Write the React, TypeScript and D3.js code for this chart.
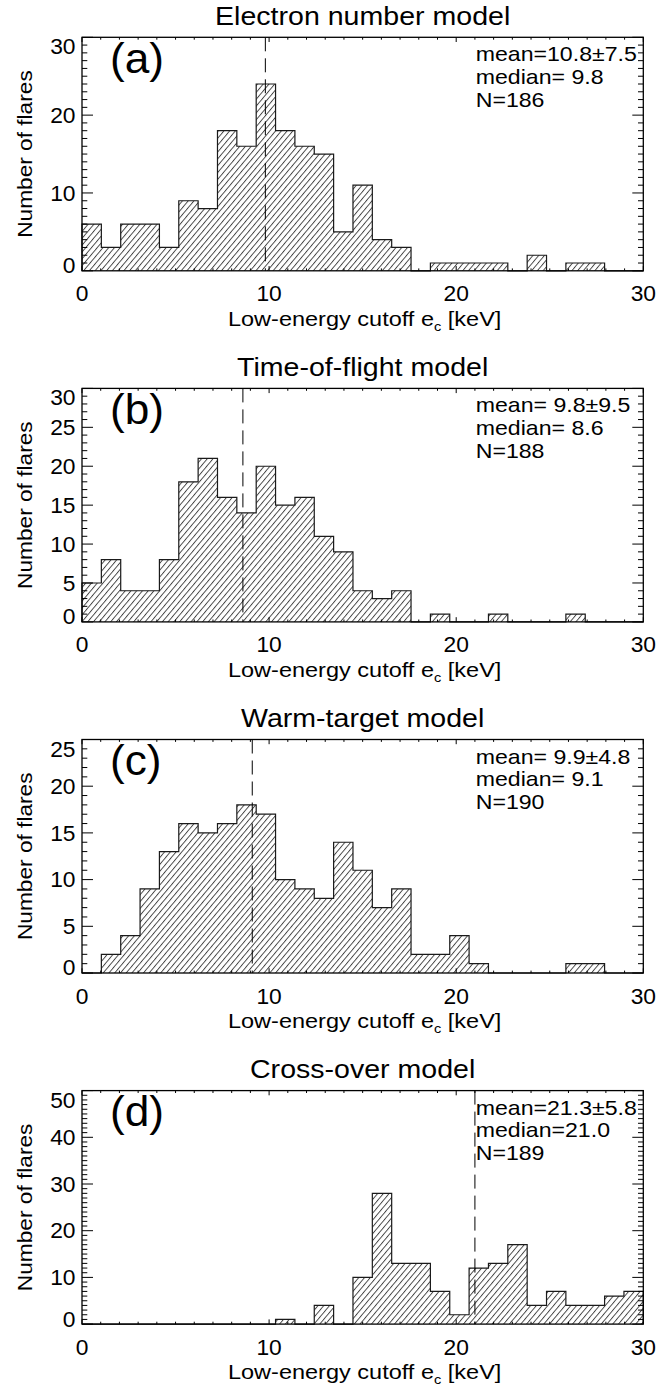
import React from 'react';
import * as d3 from 'd3';

// ---------------- data ----------------
const binCount = 29;
const xDomain: [number, number] = [0, 30];
const xMajorTicks = [0, 10, 20, 30];

const titles = ['Electron number model', 'Time-of-flight model', 'Warm-target model', 'Cross-over model'];
const panelLabels = ['(a)', '(b)', '(c)', '(d)'];

const countsA = [6, 3, 6, 6, 3, 9, 8, 18, 16, 24, 18, 16, 15, 5, 11, 4, 3, 0, 1, 1, 1, 1, 0, 2, 0, 1, 1, 0, 0];
const countsB = [5, 8, 4, 4, 8, 18, 21, 16, 14, 20, 15, 16, 11, 9, 4, 3, 4, 0, 1, 0, 0, 1, 0, 0, 0, 1, 0, 0, 0];
const countsC = [0, 2, 4, 9, 13, 16, 15, 16, 18, 17, 10, 9, 8, 14, 11, 7, 9, 2, 2, 4, 1, 0, 0, 0, 0, 1, 1, 0, 0];
const countsD = [0, 0, 0, 0, 0, 0, 0, 0, 0, 0, 1, 0, 4, 0, 10, 28, 13, 13, 7, 2, 12, 13, 17, 4, 7, 4, 4, 6, 7];

const yMaxes = [30, 30, 25, 50];
const yMajorSteps = [10, 5, 5, 10];
const medians = [9.8, 8.6, 9.1, 21.0];
const meanTexts = ['mean=10.8\u00b17.5', 'mean= 9.8\u00b19.5', 'mean= 9.9\u00b14.8', 'mean=21.3\u00b15.8'];
const medianTexts = ['median= 9.8', 'median= 8.6', 'median= 9.1', 'median=21.0'];
const nTexts = ['N=186', 'N=188', 'N=190', 'N=189'];

const countsList = [countsA, countsB, countsC, countsD];

// ---------------- layout ----------------
const W = 658;
const H = 1389;
const plotLeft = 82;
const plotRight = 643.3;
const top0 = 37.3;
const pitch = 351.1;
const plotH = 233.5;
const FONT = "'Liberation Sans', Arial, Helvetica, sans-serif";

function SText(props: any) {
  const { x, y, sx = 1, anchor = 'start', size, rotate, children, weight } = props;
  const tr = `translate(${x},${y})${rotate !== undefined ? ` rotate(${rotate})` : ''} scale(${sx},1)`;
  return (
    <text
      transform={tr}
      textAnchor={anchor}
      fontSize={size}
      fontFamily={FONT}
      fontWeight={weight}
      fill="#000"
      style={{ whiteSpace: 'pre' }}
    >
      {children}
    </text>
  );
}

function Panel({ i }: { i: number }) {
  const top = top0 + pitch * i;
  const bottom = top + plotH;
  const yMax = yMaxes[i];
  const x = d3.scaleLinear().domain(xDomain).range([plotLeft, plotRight]);
  const y = d3.scaleLinear().domain([0, yMax]).range([bottom, top]);
  const counts = countsList[i];
  const edges = d3.range(binCount + 1).map((k) => xDomain[0] + (k * (xDomain[1] - xDomain[0])) / binCount);
  const pts: [number, number][] = [
    [edges[0], 0],
    ...counts.map((c, k) => [edges[k], c] as [number, number]),
    [edges[binCount], counts[binCount - 1]],
    [edges[binCount], 0],
  ];
  const line = d3
    .line<[number, number]>()
    .x((d) => x(d[0]))
    .y((d) => y(d[1]))
    .curve(d3.curveStepAfter);
  const area = d3
    .area<[number, number]>()
    .x((d) => x(d[0]))
    .y0(y(0))
    .y1((d) => y(d[1]))
    .curve(d3.curveStepAfter);

  const xMinor = d3.range(xDomain[0], xDomain[1] + 1, 1).filter((v) => !xMajorTicks.includes(v));
  const yMajor = d3.range(0, yMax + 0.001, yMajorSteps[i]);
  const yMinor = d3.range(0, yMax + 0.001, 1).filter((v) => !yMajor.includes(v));
  const xTickMaj = 4.7;
  const xTickMin = 2.4;
  const yTickMaj = 11;
  const yTickMin = 5.3;
  const cx = (plotLeft + plotRight) / 2;
  const midY = (top + bottom) / 2;

  return (
    <g>
      {/* title */}
      <SText x={cx} y={top - 12.3} anchor="middle" size={25.5} sx={1.12}>
        {titles[i]}
      </SText>

      {/* hatched histogram */}
      <path d={area(pts) || ''} fill="url(#hatch)" stroke="none" />
      <path d={line(pts) || ''} fill="none" stroke="#1a1a1a" strokeWidth={1.2} />

      {/* median line */}
      <line
        x1={x(medians[i])}
        x2={x(medians[i])}
        y1={top}
        y2={bottom}
        stroke="#000"
        strokeWidth={1}
        strokeDasharray="14,7"
      />

      {/* ticks */}
      {xMajorTicks.map((v) => (
        <g key={'xM' + v}>
          <line x1={x(v)} x2={x(v)} y1={bottom} y2={bottom - xTickMaj} stroke="#000" strokeWidth={1} />
          <line x1={x(v)} x2={x(v)} y1={top} y2={top + xTickMaj} stroke="#000" strokeWidth={1} />
        </g>
      ))}
      {xMinor.map((v) => (
        <g key={'xm' + v}>
          <line x1={x(v)} x2={x(v)} y1={bottom} y2={bottom - xTickMin} stroke="#000" strokeWidth={1} />
          <line x1={x(v)} x2={x(v)} y1={top} y2={top + xTickMin} stroke="#000" strokeWidth={1} />
        </g>
      ))}
      {yMajor.map((v) => (
        <g key={'yM' + v}>
          <line x1={plotLeft} x2={plotLeft + yTickMaj} y1={y(v)} y2={y(v)} stroke="#000" strokeWidth={1} />
          <line x1={plotRight} x2={plotRight - yTickMaj} y1={y(v)} y2={y(v)} stroke="#000" strokeWidth={1} />
        </g>
      ))}
      {yMinor.map((v) => (
        <g key={'ym' + v}>
          <line x1={plotLeft} x2={plotLeft + yTickMin} y1={y(v)} y2={y(v)} stroke="#000" strokeWidth={1} />
          <line x1={plotRight} x2={plotRight - yTickMin} y1={y(v)} y2={y(v)} stroke="#000" strokeWidth={1} />
        </g>
      ))}

      {/* frame */}
      <rect
        x={plotLeft}
        y={top}
        width={plotRight - plotLeft}
        height={plotH}
        fill="none"
        stroke="#000"
        strokeWidth={1.3}
      />

      {/* y tick labels */}
      {yMajor.map((v, k) => {
        let by = y(v) + 7.7;
        if (k === 0) by = y(v) + 2.4;
        if (k === yMajor.length - 1) by = y(v) + 17;
        return (
          <SText key={'yl' + v} x={75.5} y={by} anchor="end" size={21.5} sx={1.06}>
            {String(v)}
          </SText>
        );
      })}

      {/* x tick labels */}
      {xMajorTicks.map((v) => (
        <SText key={'xl' + v} x={x(v)} y={bottom + 30.5} anchor="middle" size={21.5} sx={1.06}>
          {String(v)}
        </SText>
      ))}

      {/* x axis title */}
      <text
        transform={`translate(${cx + 2},${bottom + 55}) scale(1.12,1)`}
        textAnchor="middle"
        fontSize={21}
        fontFamily={FONT}
        fill="#000"
      >
        Low-energy cutoff e
        <tspan fontSize={13} dy={5}>
          c
        </tspan>
        <tspan dy={-5}> [keV]</tspan>
      </text>

      {/* y axis title */}
      <SText x={32} y={midY} anchor="middle" size={21} sx={1.08} rotate={-90}>
        Number of flares
      </SText>

      {/* panel label */}
      <SText x={110} y={top + 35.5} size={42.5} sx={1.04}>
        {panelLabels[i]}
      </SText>

      {/* stats */}
      <SText x={475.7} y={top + 24} size={19.6} sx={1.18}>
        {meanTexts[i]}
      </SText>
      <SText x={475.7} y={top + 46.8} size={19.6} sx={1.18}>
        {medianTexts[i]}
      </SText>
      <SText x={475.7} y={top + 69.6} size={19.6} sx={1.18}>
        {nTexts[i]}
      </SText>
    </g>
  );
}

export default function App() {
  return (
    <svg
      width={W}
      height={H}
      viewBox={`0 0 ${W} ${H}`}
      style={{ position: 'absolute', left: 0, top: 0, background: '#fff' }}
    >
      <defs>
        <pattern
          id="hatch"
          patternUnits="userSpaceOnUse"
          width={4.4}
          height={10}
          patternTransform="rotate(40)"
        >
          <line x1={0.5} y1={-1} x2={0.5} y2={11} stroke="#222" strokeWidth={0.85} />
        </pattern>
      </defs>
      <rect x={0} y={0} width={W} height={H} fill="#fff" />
      {[0, 1, 2, 3].map((i) => (
        <Panel key={i} i={i} />
      ))}
    </svg>
  );
}
